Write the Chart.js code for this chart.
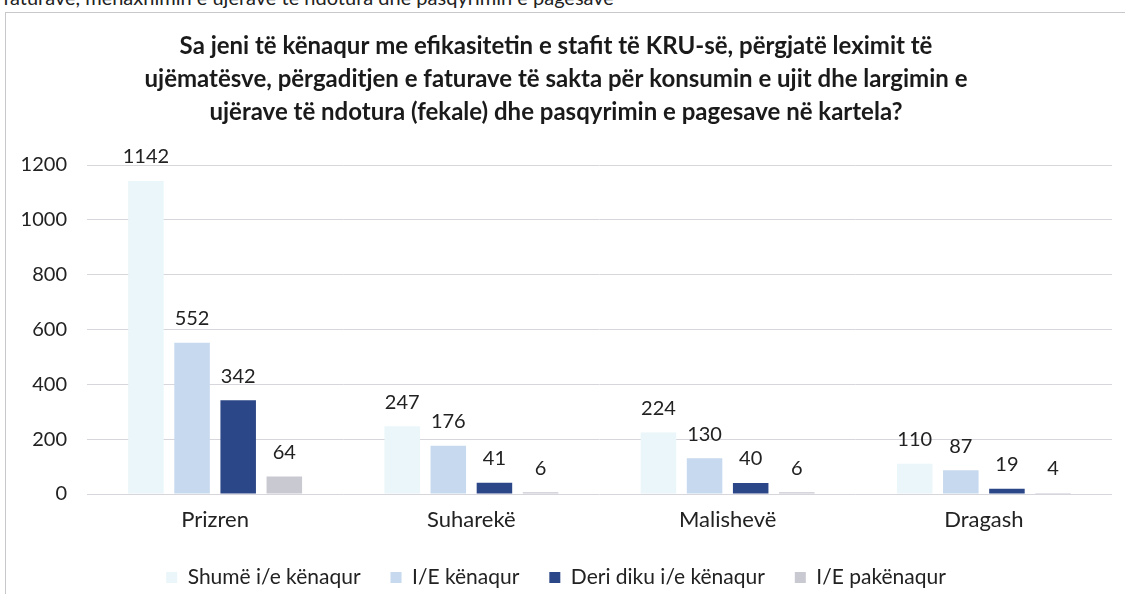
<!DOCTYPE html>
<html>
<head>
<meta charset="utf-8">
<script src="https://cdn.jsdelivr.net/npm/chart.js@4/dist/chart.umd.min.js"></script>
<style>
  html, body { margin: 0; padding: 0; background: #ffffff; width: 1125px; height: 594px; overflow: hidden; }
  #topline { position: absolute; left: 3px; top: -15px; font-family: Lato, sans-serif; font-size: 20px; color: #222; white-space: nowrap; }
  #frame { position: absolute; left: 5px; top: 12px; width: 1200px; height: 700px; border-left: 1px solid #c8c8cc; border-top: 1px solid #c8c8cc; }
  #c { position: absolute; left: 0; top: 0; }
</style>
</head>
<body>
<div id="topline">faturave, menaxhimin e ujërave të ndotura dhe pasqyrimin e pagesave</div>
<div id="frame"></div>
<canvas id="c" width="1125" height="598"></canvas>
<script>
const titleLines = [
  "Sa jeni të kënaqur me efikasitetin e stafit të KRU-së, përgjatë leximit të",
  "ujëmatësve, përgaditjen e faturave të sakta për konsumin e ujit dhe largimin e",
  "ujërave të ndotura (fekale) dhe pasqyrimin e pagesave në kartela?"
];
const categories = ["Prizren", "Suharekë", "Malishevë", "Dragash"];
const seriesNames = ["Shumë i/e kënaqur", "I/E kënaqur", "Deri diku i/e kënaqur", "I/E pakënaqur"];
const shumeKenaqur = [1142, 247, 224, 110];
const kenaqur = [552, 176, 130, 87];
const deriDiku = [342, 41, 40, 19];
const pakenaqur = [64, 6, 6, 4];
const yTicks = [0, 200, 400, 600, 800, 1000, 1200];
const colors = ["#eaf6f9", "#c6d9ee", "#2c4787", "#c9c9d1"];

const FONT = "Lato, 'Open Sans', sans-serif";

const valueLabels = {
  id: "valueLabels",
  afterDatasetsDraw(chart) {
    const ctx = chart.ctx;
    ctx.save();
    ctx.font = "20px " + FONT;
    ctx.fillStyle = "#222";
    ctx.textAlign = "center";
    ctx.textBaseline = "middle";
    chart.data.datasets.forEach((ds, di) => {
      const meta = chart.getDatasetMeta(di);
      meta.data.forEach((bar, i) => {
        ctx.fillText(String(ds.data[i]), bar.x, bar.y - 24);
      });
    });
    ctx.restore();
  }
};

const dataSets = [shumeKenaqur, kenaqur, deriDiku, pakenaqur];

new Chart(document.getElementById("c"), {
  type: "bar",
  data: {
    labels: categories,
    datasets: dataSets.map((d, i) => ({
      label: seriesNames[i],
      data: d,
      backgroundColor: colors[i],
      borderWidth: 0,
      categoryPercentage: 0.72,
      barPercentage: 0.77
    }))
  },
  options: {
    responsive: false,
    animation: false,
    layout: { padding: { left: 0, right: 13, top: 0, bottom: 0 } },
    plugins: {
      title: {
        display: true,
        text: titleLines,
        color: "#1a1a1a",
        font: { family: FONT, size: 24, weight: "bold", lineHeight: 1.375 },
        padding: { top: 30, bottom: 36 }
      },
      legend: {
        display: true,
        position: "bottom",
        labels: {
          color: "#222",
          font: { family: FONT, size: 21 },
          boxWidth: 11,
          boxHeight: 11,
          padding: 30
        }
      },
      tooltip: { enabled: false }
    },
    scales: {
      x: {
        afterFit(scale) { scale.height = 43; },
        grid: { display: false, drawTicks: false },
        border: { display: false },
        ticks: { color: "#222", font: { family: FONT, size: 22 }, padding: 13 }
      },
      y: {
        min: 0,
        max: 1200,
        afterFit(scale) { scale.width = 87; },
        afterBuildTicks(scale) { scale.ticks = yTicks.map(v => ({ value: v })); },
        grid: { color: "#d6d6dc", lineWidth: 1, drawTicks: false },
        border: { display: false },
        ticks: { color: "#222", font: { family: FONT, size: 20 }, padding: 20, callback: v => String(v) }
      }
    }
  },
  plugins: [valueLabels]
});
</script>
</body>
</html>
